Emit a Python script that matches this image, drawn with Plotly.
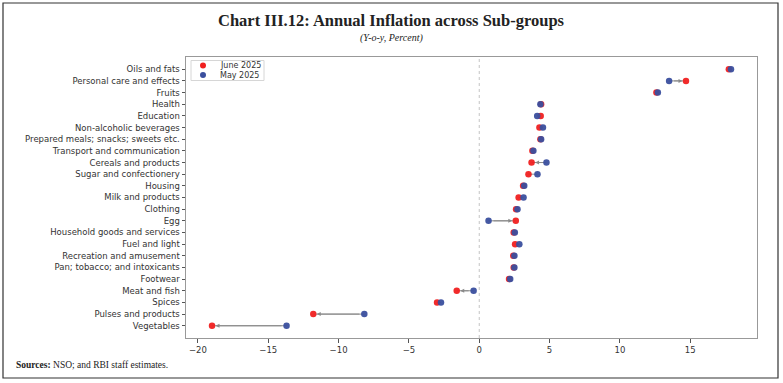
import plotly.graph_objects as go

categories = [
    "Oils and fats", "Personal care and effects", "Fruits", "Health", "Education",
    "Non-alcoholic beverages", "Prepared meals; snacks; sweets etc.",
    "Transport and communication", "Cereals and products", "Sugar and confectionery",
    "Housing", "Milk and products", "Clothing", "Egg", "Household goods and services",
    "Fuel and light", "Recreation and amusement", "Pan; tobacco; and intoxicants",
    "Footwear", "Meat and fish", "Spices", "Pulses and products", "Vegetables",
]
june_2025 = [17.75, 14.7, 12.6, 4.4, 4.37, 4.28, 4.35, 3.78, 3.72, 3.5, 3.12, 2.8,
             2.62, 2.6, 2.45, 2.55, 2.42, 2.45, 2.12, -1.6, -3.0, -11.8, -19.0]
may_2025 = [17.9, 13.5, 12.7, 4.35, 4.12, 4.53, 4.4, 3.85, 4.78, 4.14, 3.2, 3.15,
            2.72, 0.66, 2.53, 2.85, 2.5, 2.5, 2.2, -0.4, -2.72, -8.17, -13.7]
x_ticks = [-20, -15, -10, -5, 0, 5, 10, 15]
series_names = ["June 2025", "May 2025"]
series_colors = ["#f02020", "#3a4f9e"]

W, H = 783, 383
L, R, T, B = 186, 757, 57, 338


def px(x):
    return (x - L) / (R - L)


def py(y):
    return (B - y) / (B - T)


order_bottom_up = categories[::-1]
n = len(categories)

fig = go.Figure()

# connecting lines (under markers)
lx, ly = [], []
for c, j, m in zip(categories, june_2025, may_2025):
    lx += [m, j, None]
    ly += [c, c, None]
fig.add_trace(go.Scatter(x=lx, y=ly, mode="lines", line=dict(color="#8a8a8a", width=1),
                         showlegend=False, hoverinfo="skip"))

for name, vals, col in zip(series_names, [june_2025, may_2025], series_colors):
    fig.add_trace(go.Scatter(x=vals, y=categories, mode="markers", name=name, showlegend=False,
                             marker=dict(color=col, size=6.5, opacity=0.95)))

for c, j, m in zip(categories, june_2025, may_2025):
    if abs(j - m) > 0.3:
        fig.add_annotation(x=j, y=c, ax=m, ay=c, xref="x", yref="y", axref="x", ayref="y",
                           text="", showarrow=True, arrowhead=2, arrowsize=0.8,
                           arrowwidth=1, arrowcolor="#8a8a8a", standoff=3.5, startstandoff=3.5)

fig.add_vline(x=0, line=dict(color="#c4c4c4", width=1, dash="dot"), layer="below")

# outer frame
fig.add_shape(type="rect", xref="paper", yref="paper", x0=px(3), x1=px(778), y0=py(378), y1=py(3),
              line=dict(color="#333333", width=1.2), fillcolor="rgba(0,0,0,0)")

# custom legend
fig.add_shape(type="rect", xref="paper", yref="paper", x0=px(191), x1=px(264), y0=py(80.5), y1=py(60.5),
              line=dict(color="#d6d6d6", width=1), fillcolor="white")
for i, (name, col) in enumerate(zip(series_names, series_colors)):
    cy = 65.5 + i * 9.6
    fig.add_shape(type="circle", xref="paper", yref="paper",
                  x0=px(203 - 3), x1=px(203 + 3), y0=py(cy + 3), y1=py(cy - 3),
                  line=dict(width=0), fillcolor=col)
    fig.add_annotation(xref="paper", yref="paper", x=px(217.5), y=py(cy), text=name,
                       showarrow=False, xanchor="left", yanchor="middle",
                       font=dict(family="DejaVu Sans", size=8, color="#333333"))

fig.add_annotation(xref="paper", yref="paper", x=px(391.5), y=py(20), text="<b>Chart III.12: Annual Inflation across Sub-groups</b>",
                   showarrow=False, xanchor="center", yanchor="middle",
                   font=dict(family="Liberation Serif", size=16.5, color="#222222"))
fig.add_annotation(xref="paper", yref="paper", x=px(391.5), y=py(38.5), text="<i>(Y-o-y, Percent)</i>",
                   showarrow=False, xanchor="center", yanchor="middle",
                   font=dict(family="Liberation Serif", size=10, color="#222222"))
fig.add_annotation(xref="paper", yref="paper", x=px(14), y=py(365), text="<b>Sources:</b> NSO; and RBI staff estimates.",
                   showarrow=False, xanchor="left", yanchor="middle",
                   font=dict(family="Liberation Serif", size=9.5, color="#222222"))

fig.update_layout(
    width=W, height=H,
    margin=dict(l=L, r=W - R, t=T, b=H - B, pad=0),
    paper_bgcolor="white", plot_bgcolor="white",
    font=dict(family="DejaVu Sans", size=8.5, color="#333333"),
    showlegend=False,
)
fig.update_xaxes(range=[-20.85, 19.75], tickvals=x_ticks, showgrid=False, zeroline=False,
                 showline=True, mirror=True, linecolor="#999999", linewidth=1,
                 ticks="outside", ticklen=3.5, tickcolor="#555555",
                 tickfont=dict(family="DejaVu Sans", size=8.5, color="#333333"))
fig.update_yaxes(type="category", categoryorder="array", categoryarray=order_bottom_up,
                 range=[-1.05, n - 1 + 1.05], showgrid=False, zeroline=False,
                 showline=True, mirror=True, linecolor="#999999", linewidth=1,
                 ticks="outside", ticklen=3.5, tickcolor="#555555",
                 tickfont=dict(family="DejaVu Sans", size=8.5, color="#333333"))

fig.write_html("out.html", config={"displayModeBar": False},
               post_script="document.body.style.margin='0';")
